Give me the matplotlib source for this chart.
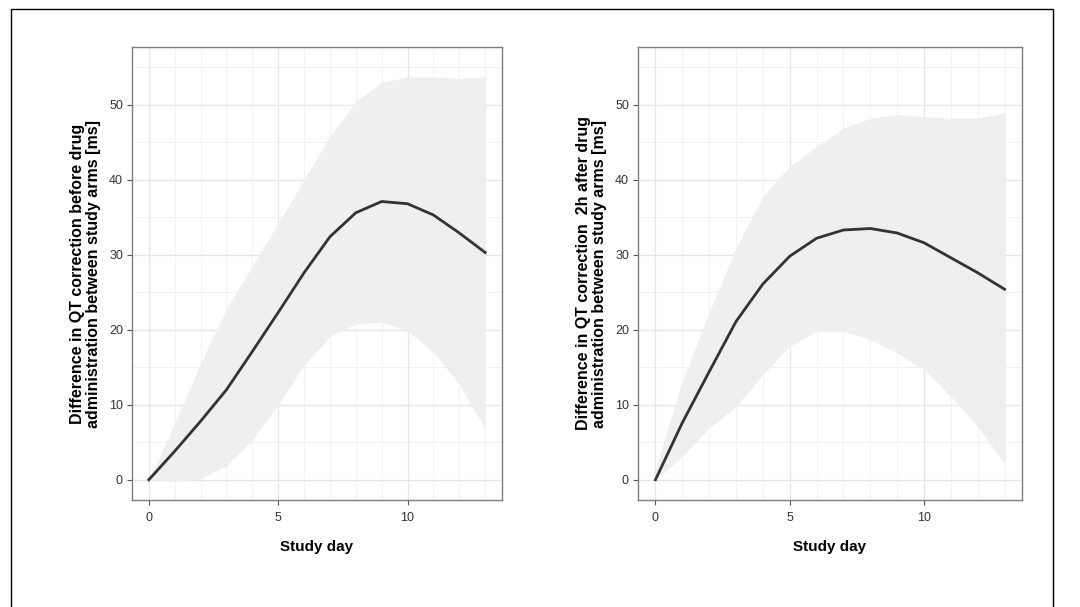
import numpy as np
import matplotlib.pyplot as plt
from matplotlib.patches import Rectangle

plt.rcParams['font.family'] = ['Liberation Sans', 'DejaVu Sans']

days = np.arange(0, 14)

# before drug administration
pre_mean = [0, 3.8, 7.8, 12.0, 17.1, 22.3, 27.6, 32.4, 35.6, 37.1, 36.8, 35.3, 32.9, 30.3]
pre_low = [0, -0.2, 0.1, 1.9, 5.3, 10.0, 15.3, 19.1, 20.8, 21.0, 19.9, 17.0, 12.7, 6.7]
pre_high = [0, 7.5, 15.5, 22.8, 28.5, 34.2, 40.0, 45.8, 50.4, 53.0, 53.7, 53.7, 53.5, 53.7]

# 2h after drug administration
post_mean = [0, 7.6, 14.4, 21.1, 26.1, 29.8, 32.2, 33.3, 33.5, 32.9, 31.6, 29.6, 27.6, 25.4]
post_low = [0, 3.1, 6.9, 9.8, 14.0, 17.8, 19.8, 19.8, 18.7, 16.9, 14.7, 11.1, 7.1, 2.2]
post_high = [1.5, 13.2, 22.3, 30.9, 37.8, 41.8, 44.4, 46.9, 48.2, 48.7, 48.4, 48.2, 48.2, 48.9]

ylabels = [
    "Difference in QT correction before drug\nadministration between study arms [ms]",
    "Difference in QT correction  2h after drug\nadministration between study arms [ms]",
]

fig = plt.figure(figsize=(10.8, 6.07), dpi=100)
W, H = 1080, 607
panels = [(132, 502), (638, 1022)]
series = [(pre_mean, pre_low, pre_high), (post_mean, post_low, post_high)]

# outer frame (open at the bottom, as in the cropped original)
fig.patches.append(Rectangle((11 / W, -0.1), (1053 - 11) / W, 1.1 - 9 / H,
                             transform=fig.transFigure, fill=False,
                             edgecolor='black', linewidth=1.0))

for (x0, x1), (m, lo, hi), lab in zip(panels, series, ylabels):
    ax = fig.add_axes([x0 / W, 1 - 500 / H, (x1 - x0) / W, (500 - 47) / H])
    ax.fill_between(days, lo, hi, color='#edeff1', alpha=0.95, linewidth=0, zorder=2)
    ax.plot(days, m, color='#333333', linewidth=2.0, zorder=3)
    ax.set_xlim(-0.65, 13.65)
    ax.set_ylim(-2.7, 57.7)
    ax.set_xticks([0, 5, 10])
    ax.set_xticks(days, minor=True)
    ax.set_yticks([0, 10, 20, 30, 40, 50])
    ax.set_yticks([5, 15, 25, 35, 45, 55], minor=True)
    ax.grid(which='major', color='#e6e6e6', linewidth=0.9, zorder=0)
    ax.grid(which='minor', color='#f0f0f0', linewidth=0.6, zorder=0)
    ax.set_axisbelow(True)
    ax.tick_params(which='major', length=3.5, width=0.8, color='#555555',
                   labelsize=9, labelcolor='#333333', pad=3)
    ax.tick_params(which='minor', length=0)
    ax.tick_params(axis='x', pad=5)
    for s in ax.spines.values():
        s.set_color('#7f7f7f')
        s.set_linewidth(1.0)
    ax.set_xlabel("Study day", fontsize=11, fontweight='bold', labelpad=12)
    ax.set_ylabel(lab, fontsize=11.5, fontweight='bold', labelpad=6,
                  linespacing=1.05)

fig.savefig("out.png", dpi=100)
